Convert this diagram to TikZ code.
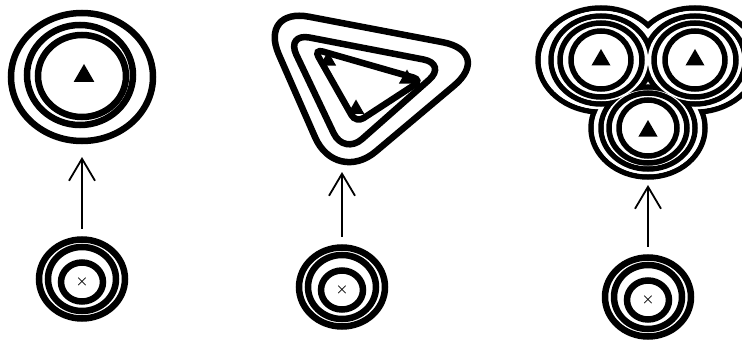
\documentclass[tikz,border=0pt]{standalone}
\usepackage{tikz}
\usetikzlibrary{arrows.meta,shapes.geometric}

\begin{document}
\begin{tikzpicture}[
  x=1pt, y=-1pt,
  ring/.style={draw=black, line width=6.5pt, ellipse, inner sep=0pt, outer sep=0pt},
  band/.style={draw=black, line width=6.5pt},
  thin/.style={line width=5.5pt},
  marker/.style={fill=black, regular polygon, regular polygon sides=3, inner sep=0pt, minimum size=#1},
  marker/.default=22pt,
  cross/.style={font=\Large\boldmath, inner sep=0pt},
  uparrow/.style={-{Straight Barb[length=22pt, width=26pt]}, line width=1.8pt, shorten <=11pt, shorten >=10pt}
]
  \useasboundingbox (0,0) rectangle (742,345);

  % Bottom row: three small ring sets, one under each figure
  \foreach \i/\x/\y in {1/82/279, 2/342/287, 3/648/297} {
    \node[ring, minimum width=86pt, minimum height=79pt] (b\i) at (\x,\y) {};
    \node[ring, minimum width=68pt, minimum height=64pt] (bm\i) at (\x,\y) {};
    \node[ring, minimum width=42pt, minimum height=39pt] (bi\i) at (\x,\y+3) {};
    \node[cross] (c\i) at (bi\i) {$\times$};
  }

  % Top left: one nested set
  \node[ring, minimum width=142pt, minimum height=128pt] (t1) at (82,77) {};
  \node[ring, minimum width=106pt, minimum height=100pt] (t1m) at (80,75) {};
  \node[ring, minimum width=88pt, minimum height=82pt] (t1i) at (82,76) {};
  \node[marker=24pt] (m1) at (84,76) {};

  % Top middle: rounded triangles
  \draw[band, rounded corners=52pt] (258,7) -- (494,52) -- (336,185) -- cycle;
  \draw[band, rounded corners=24pt] (286,33) -- (447,64) -- (344,155) -- cycle;
  \draw[band, rounded corners=9pt] (314,49) -- (422,80) -- (356,123) -- cycle;
  \foreach \p [count=\k] in {(328,61), (407,79), (356,109)}
    \node[marker=19pt] (mt\k) at \p {};
  \coordinate (t2) at (342,162);

  % Top right: three sets inside a joint outline
  \coordinate (ca) at (601,60);
  \coordinate (cb) at (695,60);
  \coordinate (cc) at (648,128);
  \foreach \c/\ex/\ey in {ca/63pt/52pt, cb/63pt/52pt, cc/57pt/49pt}
    \draw[band, thin] (\c) ellipse [x radius=\ex, y radius=\ey];
  \foreach \c/\ex/\ey in {ca/63pt/52pt, cb/63pt/52pt, cc/57pt/49pt}
    \fill[white] (\c) ellipse [x radius=\ex-2.75pt, y radius=\ey-2.75pt];
  \foreach \c/\ex/\ey in {ca/50pt/44pt, cb/50pt/44pt, cc/47pt/41pt}
    \draw[band, thin] (\c) ellipse [x radius=\ex, y radius=\ey];
  \foreach \c/\ex/\ey in {ca/50pt/44pt, cb/50pt/44pt, cc/47pt/41pt}
    \fill[white] (\c) ellipse [x radius=\ex-2.75pt, y radius=\ey-2.75pt];
  \foreach \c/\w/\h/\iw/\ih in {ca/82pt/74pt/60pt/58pt, cb/82pt/74pt/60pt/58pt, cc/78pt/70pt/58pt/56pt} {
    \node[ring, thin, minimum width=\w, minimum height=\h] (r\c) at (\c) {};
    \node[ring, thin, minimum width=\iw, minimum height=\ih] (ri\c) at (\c) {};
  }
  \foreach \c/\dy in {ca/0, cb/0, cc/3}
    \node[marker=22pt] (m\c) at ([yshift=-\dy pt]\c) {};
  \coordinate (t3) at (648,175);

  % Arrows, bottom to top
  \draw[uparrow, shorten >=16pt] (b1) -- (t1);
  \draw[uparrow] (b2) -- (t2);
  \draw[uparrow] (b3) -- (t3);

\end{tikzpicture}
\end{document}
